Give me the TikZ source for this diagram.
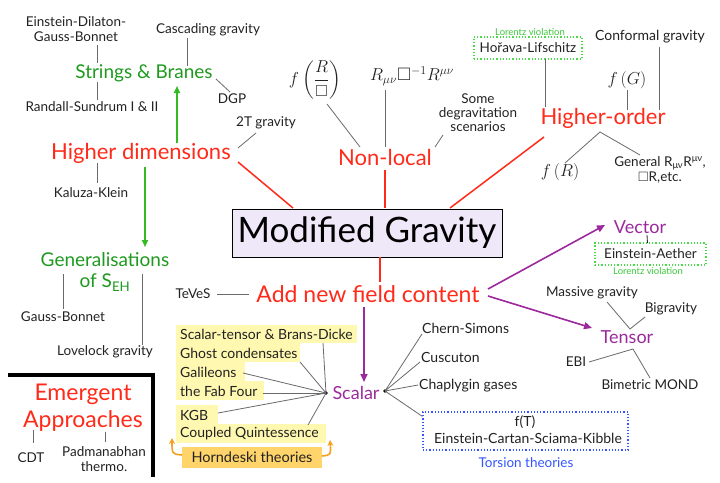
\documentclass[tikz,border=0pt]{standalone}
\usepackage{amsmath,amssymb}
\usepackage{fontspec}
\setmainfont{Lato}
\usetikzlibrary{calc,arrows.meta}
\definecolor{txt}{HTML}{222222}
\definecolor{hred}{HTML}{FF2A1A}
\definecolor{gtext}{HTML}{1E9A1E}
\definecolor{garrow}{HTML}{33BB22}
\definecolor{lgreen}{HTML}{44DD44}
\definecolor{lvgreen}{HTML}{3CC83C}
\definecolor{purp}{HTML}{9C2A9C}
\definecolor{tblue}{HTML}{3355FF}
\definecolor{conn}{HTML}{6A6A6A}
\definecolor{boxfill}{HTML}{EEE8F8}
\definecolor{yel}{HTML}{FFF8B0}
\definecolor{orng}{HTML}{FFD46A}
\definecolor{orarrow}{HTML}{F5A020}
\tikzset{
  sm/.style={font=\fontsize{13.5}{15}\selectfont, text=txt, inner sep=0pt, align=center},
  tiny/.style={font=\fontsize{9.5}{10}\selectfont, inner sep=0pt},
  bigred/.style={font=\fontsize{22}{24}\selectfont, text=hred, inner sep=0pt, align=center},
  midgreen/.style={font=\fontsize{19}{21}\selectfont, text=gtext, inner sep=0pt, align=center},
  purptext/.style={font=\fontsize{18}{20}\selectfont, text=purp, inner sep=0pt},
  mathtxt/.style={font=\fontsize{16}{18}\selectfont, text=txt, inner sep=0pt},
  ln/.style={draw=conn, line width=0.8pt},
  redln/.style={draw=hred, line width=1.5pt},
  garr/.style={draw=garrow, line width=1.6pt, -{Triangle[length=7pt,width=6pt]}},
  parr/.style={draw=purp, line width=1.6pt, -{Triangle[length=8pt,width=7pt]}},
  oarr/.style={draw=orarrow, line width=1.6pt, -{Stealth[length=6pt,width=6pt]}},
  yrow/.style={fill=yel, draw=none},
  yitem/.style={sm, anchor=west, font=\fontsize{14}{15}\selectfont},
  med/.style={sm, font=\fontsize{14}{15}\selectfont},
}
\begin{document}
\begin{tikzpicture}[x=1pt,y=-1pt]
\path[use as bounding box] (0,0) rectangle (720,482);
\fill[white] (0,0) rectangle (720,482);

% ---------- central box ----------
\node[draw=black, line width=0.8pt, fill=boxfill, minimum width=270pt, minimum height=48pt,
      inner sep=0pt, font=\fontsize{35}{38}\selectfont] (mg) at (367,233) {Modified Gravity};

% ---------- Higher dimensions ----------
\node[bigred] (hd) at (141,153) {Higher dimensions};
\node[midgreen] (sb) at (144,73) {Strings \& Branes};
\node[sm] (edgb) at (76,29) {Einstein-Dilaton-\\Gauss-Bonnet};
\node[sm] (casc) at (208,30) {Cascading gravity};
\node[sm] (rs) at (92,107) {Randall-Sundrum I \& II};
\node[sm] (dgp) at (232,99) {DGP};
\node[sm] (t2) at (266,123) {2T gravity};
\node[sm] (kk) at (91,193) {Kaluza-Klein};
\node[midgreen] (gen) at (105,272) {Generalisations\\of S\textsubscript{EH}};
\node[sm] (gb) at (63,317) {Gauss-Bonnet};
\node[sm] (lov) at (105,352) {Lovelock gravity};

\draw[ln] ($(edgb)+(21,16)$) -- ($(sb)+(-47,-10)$);
\draw[ln] ($(sb)+(-47,9)$) -- ($(rs)+(5,-7)$);
\draw[ln] ($(casc)+(-21,8)$) -- ($(sb)+(43,-7)$);
\draw[ln] ($(sb)+(72,6)$) -- ($(dgp)+(-2,-7)$);
\draw[ln] ($(t2)+(-10,10)$) -- ($(hd)+(97,-5)$);
\draw[ln] ($(hd)+(-44,10)$) -- ($(kk)+(6,-10)$);
\draw[garr] ($(hd)+(36,-10)$) -- ($(sb)+(33,13)$);
\draw[garr] ($(hd)+(4,14)$) -- ($(gen)+(40,-25)$);
\draw[ln] ($(gen)+(-42,2)$) -- ($(gb)+(0,-8)$);
\draw[ln] ($(gen)+(37,2)$) -- ($(lov)+(37,-7)$);

% ---------- Non-local ----------
\node[bigred] (nl) at (385,157) {Non-local};
\node[mathtxt] (frb) at (315,80) {$f\left(\dfrac{R}{\square}\right)$};
\node[mathtxt, font=\fontsize{18}{20}\selectfont] (rbr) at (412,76) {$R_{\mu\nu}\square^{-1}R^{\mu\nu}$};
\node[sm, font=\fontsize{13.5}{14}\selectfont] (sdeg) at (478,113) {Some\\degravitation\\scenarios};
\draw[ln] ($(frb)+(12,24)$) -- ($(nl)+(-25,-10)$);
\draw[ln] ($(rbr)+(-27,14)$) -- ($(nl)+(0,-10)$);
\draw[ln] ($(sdeg)+(-35,22)$) -- ($(nl)+(50,-10)$);

% ---------- Higher-order ----------
\node[bigred] (ho) at (603,118) {Higher-order};
\node[sm, draw=lgreen, dotted, line width=1.2pt, minimum width=108pt, minimum height=22pt] (hl) at (528,48) {Hořava-Lifschitz};
\node[tiny, text=lvgreen] (hllab) at (530,32) {Lorentz violation};
\node[med] (conf) at (650,37) {Conformal gravity};
\node[mathtxt, font=\fontsize{17}{19}\selectfont] (fg) at (627,80) {$f\left(G\right)$};
\node[mathtxt, font=\fontsize{17}{19}\selectfont] (fr) at (560,172) {$f\left(R\right)$};
\node[sm] (gen2) at (660,170) {General R\textsubscript{μν}R\textsuperscript{μν},\\$\square$R,etc.};
\draw[ln] ($(hl)+(17,11)$) -- ($(ho)+(-58,-11)$);
\draw[ln] ($(fg)+(0,10)$) -- ($(ho)+(24,-8)$);
\draw[ln] ($(conf)+(9,10)$) -- ($(ho)+(56,-8)$);
\coordinate (hoj) at ($(ho)+(-3,14)$);
\draw[ln] (hoj) -- ($(fr)+(5,-9)$);
\draw[ln] (hoj) -- ($(gen2)+(-20,-15)$);

% ---------- red connectors ----------
\draw[redln] ($(hd)+(97,9)$) -- ($(mg)+(-74,-25)$);
\draw[redln] ($(nl)+(0,13)$) -- ($(mg)+(18,-25)$);
\draw[redln] ($(ho)+(-59,19)$) -- ($(mg)+(83,-25)$);

% ---------- Add new field content ----------
\node[bigred, font=\fontsize{23}{25}\selectfont] (anf) at (368,294) {Add new field content};
\node[sm] (tev) at (193,294) {TeVeS};
\draw[redln] ($(mg)+(13,24)$) -- ($(anf)+(12,-12)$);
\draw[ln] ($(tev)+(24,0)$) -- ($(anf)+(-119,0)$);

% ---------- Vector / Tensor ----------
\node[purptext] (vec) at (640,227) {Vector};
\node[sm, draw=lgreen, dotted, line width=1.2pt, minimum width=111pt, minimum height=22pt] (ea) at (650.5,254) {Einstein-Aether};
\node[tiny, text=lvgreen] (ealab) at (648,271) {Lorentz violation};
\draw[line width=0.8pt, draw=txt] ($(vec)+(7,8)$) -- ($(ea)+(-3,-11)$);
\node[purptext] (ten) at (627,337) {Tensor};
\node[sm] (mgrav) at (592,293) {Massive gravity};
\node[sm] (bigr) at (671,309) {Bigravity};
\node[sm] (ebi) at (576,362) {EBI};
\node[sm] (bim) at (650,385) {Bimetric MOND};
\coordinate (tj) at ($(ten)+(3,-8)$);
\draw[ln] ($(mgrav)+(15,9)$) -- (tj) -- ($(bigr)+(-26,8)$);
\draw[ln] ($(ebi)+(13,0)$) -- ($(ten)+(6,12)$) -- ($(bim)+(0,-7)$);
\draw[parr] ($(anf)+(120,-5)$) -- ($(vec)+(-35,-2)$);
\draw[parr] ($(anf)+(120,2)$) -- ($(ten)+(-35,-9)$);

% ---------- Scalar ----------
\node[purptext] (sc) at (356,393) {Scalar};
\coordinate (sdl) at ($(sc)+(-30,0)$);
\coordinate (sdr) at ($(sc)+(29,-2)$);
\fill (sdl) circle (1.8pt);
\fill (sdr) circle (1.8pt);
\draw[parr] ($(anf)+(-4,13)$) -- ($(sc)+(8,-11)$);

% yellow list
\fill[yrow] (176,325) rectangle (357,343);
\fill[yrow] (176,343) rectangle (300,362);
\fill[yrow] (176,362) rectangle (245,381);
\fill[yrow] (176,381) rectangle (264,400);
\fill[yrow] (176,405) rectangle (218,424);
\fill[yrow] (176,424) rectangle (326,443);
\node[yitem] (st) at (180,334) {Scalar-tensor \& Brans-Dicke};
\node[yitem] (gc) at (180,353) {Ghost condensates};
\node[yitem] (gal) at (180,372) {Galileons};
\node[yitem] (ff) at (180,391) {the Fab Four};
\node[yitem] (kgb) at (180,415) {KGB};
\node[yitem] (cq) at (180,434) {Coupled Quintessence};
\node[fill=orng, minimum width=140pt, minimum height=21pt, inner sep=0pt,
      font=\fontsize{14.5}{15}\selectfont, text=txt] (horn) at (252,457) {Horndeski theories};
\draw[oarr] ($(horn)+(-70,-2)$) .. controls (172,454) .. ($(cq.west)+(-8,4)$);
\draw[oarr] ($(horn)+(70,-1)$) .. controls (331,455) .. ($(cq.west)+(150,6)$);

\draw[ln] ($(st.west)+(143,9)$) -- (sdl);
\draw[ln] ($(gc.west)+(120,9)$) -- (sdl);
\draw[ln] ($(gal.west)+(63,1)$) -- (sdl);
\draw[ln] ($(ff.west)+(83,2)$) -- (sdl);
\draw[ln] ($(kgb.west)+(38,-2)$) -- (sdl);
\draw[ln] ($(cq.west)+(128,-9)$) -- (sdl);

% right scalar branch
\node[med, anchor=west] (cs) at (422,328) {Chern-Simons};
\node[med, anchor=west] (cu) at (421,357) {Cuscuton};
\node[med, anchor=west] (ch) at (419,386) {Chaplygin gases};
\node[draw=tblue, dotted, line width=1.2pt, minimum width=205pt, minimum height=38pt, inner sep=0pt] (tor) at (525.5,431) {};
\node[med] (ft) at (525,422) {f(T)};
\node[med] (ecsk) at (528,438) {Einstein-Cartan-Sciama-Kibble};
\node[font=\fontsize{13.5}{14}\selectfont, text=tblue, inner sep=0pt] (torlab) at (526,463) {Torsion theories};
\draw[ln] (sdr) -- ($(cs.west)+(0,6)$);
\draw[ln] (sdr) -- ($(cu.west)+(-1,5)$);
\draw[ln] (sdr) -- ($(ch.west)+(-1,-1)$);
\draw[ln] (sdr) -- ($(tor.north west)+(0,5)$);

% ---------- Emergent approaches ----------
\draw[line width=3.5pt, draw=black] (8,375) -- (153,375) -- (153,477);
\node[bigred, font=\fontsize{23}{27}\selectfont] (emg) at (83,408) {Emergent\\Approaches};
\node[sm] (cdt) at (31,458) {CDT};
\node[sm, font=\fontsize{13.5}{15}\selectfont] (pad) at (104,459) {Padmanabhan\\thermo.};
\draw[ln] ($(emg)+(-50,22)$) -- ($(cdt)+(2,-15)$);
\draw[ln] ($(emg)+(22,24)$) -- ($(pad)+(1,-17)$);
\end{tikzpicture}
\end{document}
